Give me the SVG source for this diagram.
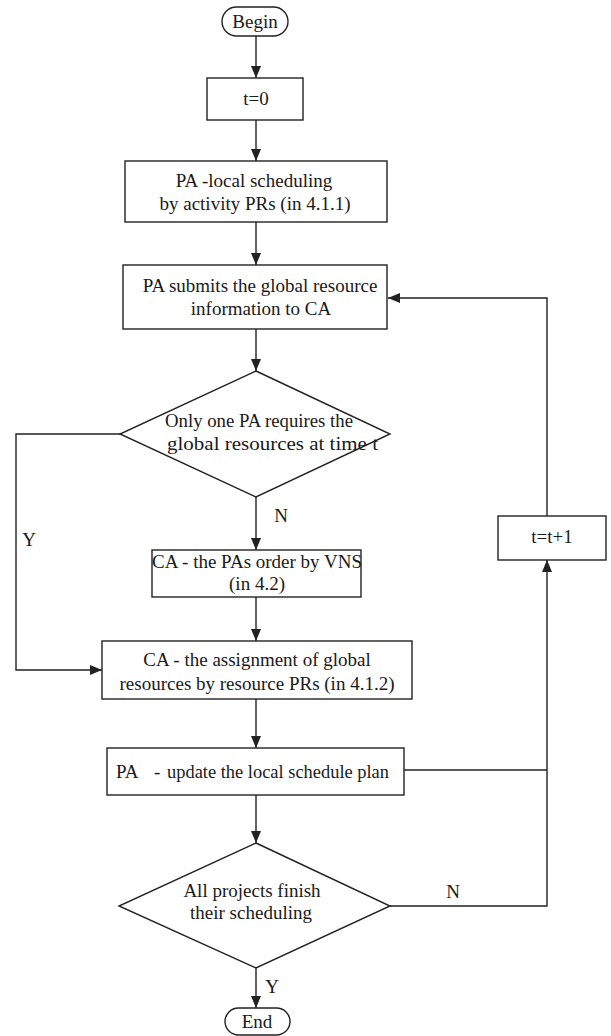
<svg xmlns="http://www.w3.org/2000/svg" width="611" height="1036" viewBox="0 0 611 1036">
<style>
.n{fill:#fff;stroke:#222;stroke-width:1.4}
.c{fill:none;stroke:#222;stroke-width:1.4}
text{font-family:"Liberation Serif","Times New Roman",serif;font-size:19px;fill:#1a1a1a;text-anchor:middle}
.s{text-anchor:start}
</style>
<defs>
<marker id="arr" viewBox="0 0 12 10" refX="12" refY="5" markerWidth="12" markerHeight="10" markerUnits="userSpaceOnUse" orient="auto">
<path d="M0,0 L12,5 L0,10 z" fill="#222"/>
</marker>
</defs>
<rect width="611" height="1036" fill="#fff"/>
<g id="connectors">
<path class="c" d="M256,36 V78" marker-end="url(#arr)"/>
<path class="c" d="M256,120 V161" marker-end="url(#arr)"/>
<path class="c" d="M256,222 V265" marker-end="url(#arr)"/>
<path class="c" d="M256,329 V371" marker-end="url(#arr)"/>
<path class="c" d="M256,497 V550" marker-end="url(#arr)"/>
<path class="c" d="M120,434 H16 V670 H102" marker-end="url(#arr)"/>
<path class="c" d="M256,597 V641" marker-end="url(#arr)"/>
<path class="c" d="M256,699 V748" marker-end="url(#arr)"/>
<path class="c" d="M256,795 V843" marker-end="url(#arr)"/>
<path class="c" d="M256,968 V1008" marker-end="url(#arr)"/>
<path class="c" d="M390,906 H547 V560" marker-end="url(#arr)"/>
<path class="c" d="M404,770 H547"/>
<path class="c" d="M547,516 V298 H388" marker-end="url(#arr)"/>
<text x="281" y="522">N</text>
<text x="29" y="546">Y</text>
<text x="453" y="898">N</text>
<text x="272" y="993">Y</text>
</g>
<g id="begin">
<rect class="n" x="222" y="7" width="66" height="29" rx="14.5"/>
<text x="255" y="28">Begin</text>
</g>
<g id="t0">
<rect class="n" x="207" y="78" width="96" height="42"/>
<text x="256" y="105">t=0</text>
</g>
<g id="pa-local">
<rect class="n" x="125" y="161" width="262" height="61"/>
<text x="254" y="187">PA -local scheduling</text>
<text x="255" y="210">by activity PRs (in 4.1.1)</text>
</g>
<g id="pa-submit">
<rect class="n" x="123" y="265" width="264" height="64"/>
<text x="260" y="292">PA submits the global resource</text>
<text x="261" y="315">information to CA</text>
</g>
<g id="decision1">
<polygon class="n" points="256,371 390,434 256,497 120,434"/>
<text class="s" x="165" y="427" textLength="188" lengthAdjust="spacingAndGlyphs">Only one PA requires the</text>
<text class="s" x="167" y="450" textLength="211" lengthAdjust="spacingAndGlyphs">global resources at time t</text>
</g>
<g id="ca-order">
<rect class="n" x="152" y="550" width="209" height="47"/>
<text x="257" y="568">CA - the PAs order by VNS</text>
<text x="257" y="590">(in 4.2)</text>
</g>
<g id="ca-assign">
<rect class="n" x="102" y="641" width="310" height="58"/>
<text x="257" y="666">CA - the assignment of global</text>
<text x="257" y="690">resources by resource PRs (in 4.1.2)</text>
</g>
<g id="t-inc">
<rect class="n" x="498" y="516" width="108" height="44"/>
<text x="552" y="543">t=t+1</text>
</g>
<g id="pa-update">
<rect class="n" x="107" y="748" width="297" height="47"/>
<text class="s" x="116" y="778">PA</text>
<text class="s" x="154" y="778">-</text>
<text class="s" x="167" y="778" textLength="222" lengthAdjust="spacingAndGlyphs">update the local schedule plan</text>
</g>
<g id="decision2">
<polygon class="n" points="256,843 390,906 256,968 119,906"/>
<text x="252" y="897">All projects finish</text>
<text x="251" y="919">their scheduling</text>
</g>
<g id="end">
<rect class="n" x="225" y="1008" width="65" height="27" rx="13.5"/>
<text x="257" y="1028">End</text>
</g>
</svg>
